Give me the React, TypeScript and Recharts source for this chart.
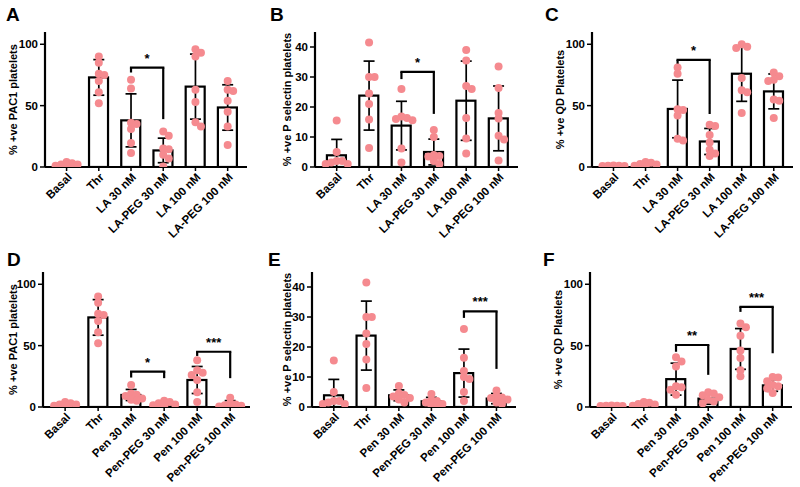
import {
  Bar,
  ComposedChart,
  ErrorBar,
  ReferenceLine,
  Scatter,
  XAxis,
  YAxis,
} from "recharts";

// categories
const CATS_LA = ["Basal", "Thr", "LA 30 nM", "LA-PEG 30 nM", "LA 100 nM", "LA-PEG 100 nM"];
const CATS_PEN = ["Basal", "Thr", "Pen 30 nM", "Pen-PEG 30 nM", "Pen 100 nM", "Pen-PEG 100 nM"];

// shared control groups
const PAC1_BASAL = [4, 3, 2, 2, 1, 1, 0.5];
const PAC1_THR = [90, 85, 76, 75, 70, 61, 52];
const PSEL_BASAL = [15.5, 5, 2, 2, 1.5, 1, 1];
const PSEL_THR = [41.5, 30, 30, 24.5, 21, 15.8, 6.3];
const QD_BASAL = [1.2, 1, 1, 0.9, 0.8, 0.8, 0.7];
const QD_THR = [4, 3.5, 2.5, 2, 1, 0.5, 0.3];

// A: PAC1, LA
const A_MEAN = [2, 73, 38, 13.5, 65.5, 48.5];
const A_SD = [1.2, 14.5, 21.6, 10, 26.5, 18.5];
const A_POINTS = [
  PAC1_BASAL,
  PAC1_THR,
  [71, 64, 36, 35, 31, 19.5, 11.5],
  [29, 25.5, 15, 14.5, 10, 7, 0.5],
  [96, 93, 90, 63, 53, 36.5, 33],
  [70, 63, 62, 54, 45, 33, 18],
];

// B: P selectin, LA
const B_MEAN = [3.9, 23.8, 13.8, 5, 22.1, 16.2];
const B_SD = [5.3, 11.5, 8.1, 4.3, 13.2, 10.8];
const B_POINTS = [
  PSEL_BASAL,
  PSEL_THR,
  [26, 16.8, 16.3, 16, 15.6, 6.2, 1.5],
  [12.3, 10, 4, 3.7, 3.5, 2, 1],
  [39, 35.5, 27, 26, 16.3, 9.5, 4.5],
  [33.5, 26.3, 18, 16.2, 10.4, 9.2, 2.2],
];

// C: QD, LA
const C_MEAN = [1, 2, 47.3, 20.8, 76, 61.6];
const C_SD = [0.3, 1.3, 23.5, 10.6, 22.5, 14.2];
const C_POINTS = [
  QD_BASAL,
  QD_THR,
  [81, 76, 47, 46.5, 42, 23, 21.5],
  [34.5, 33.5, 26, 20, 14, 11, 9],
  [100, 98, 97, 72.5, 62.6, 61, 44],
  [77, 74, 71, 70, 55, 54, 40],
];

// D: PAC1, Pen
const D_MEAN = [2, 73, 9.8, 2, 22, 2];
const D_SD = [1.2, 14.5, 4.5, 2.8, 11, 3.2];
const D_POINTS = [
  PAC1_BASAL,
  PAC1_THR,
  [18, 11, 10, 9, 7, 6, 5],
  [5, 4, 3, 2, 1.5, 1, 0.5],
  [38, 30, 28, 26, 22, 12, 4],
  [7.5, 3, 2, 1.5, 1, 0.5, 0],
];

// E: P selectin, Pen
const E_MEAN = [3.9, 23.8, 3.9, 1.9, 11.3, 2.8];
const E_SD = [5.3, 11.5, 1.8, 1.3, 8, 1.7];
const E_POINTS = [
  PSEL_BASAL,
  PSEL_THR,
  [7, 4.5, 4, 3.5, 3, 2.5, 1.5],
  [4.3, 2.3, 2, 1.5, 1, 0.5, 0.2],
  [26, 16.4, 12, 10, 9.3, 5, 2],
  [5.5, 3.7, 3.2, 3, 2.5, 1.5, 1],
];

// F: QD, Pen
const F_MEAN = [0.8, 2, 22.7, 6.8, 47.3, 17.6];
const F_SD = [0.3, 1.3, 13, 4.5, 16.6, 4.8];
const F_POINTS = [
  QD_BASAL,
  QD_THR,
  [40.5, 37, 33, 17, 16, 14, 10],
  [12, 11, 9.5, 8, 6, 4.5, 3],
  [68, 65, 58, 46, 40, 30, 25],
  [24.5, 24, 21, 18, 17, 15, 11.5],
];

// significance brackets: [from, to, top, left leg end, right leg end, label]
type Bracket = [number, number, number, number, number, string];
const A_BRACKETS: Bracket[] = [[2, 3, 81, 77, 39, "*"]];
const B_BRACKETS: Bracket[] = [[2, 3, 31.7, 29.3, 17.7, "*"]];
const C_BRACKETS: Bracket[] = [[2, 3, 87.3, 83.8, 43.2, "*"]];
const D_BRACKETS: Bracket[] = [
  [2, 3, 28.9, 24, 23.5, "*"],
  [4, 5, 45, 41.6, 23.5, "***"],
];
const E_BRACKETS: Bracket[] = [[4, 5, 31.9, 29.7, 12.7, "***"]];
const F_BRACKETS: Bracket[] = [
  [2, 3, 50.5, 45, 26.2, "**"],
  [4, 5, 81.6, 77.5, 43.8, "***"],
];

const PCT_TICKS = [0, 50, 100];
const PSEL_TICKS = [0, 10, 20, 30, 40];

const FONT = '"Liberation Sans", Arial, sans-serif';
const DOT = "#F58A8F";
const DOT_R = 4;
const BAR_W = 19;
const X_DOMAIN: [number, number] = [-0.67, 5.6];

type PanelCfg = {
  letter: string;
  letterX: number;
  left: number;
  y: number;
  width: number;
  height: number;
  top: number;
  yAxisW: number;
  right: number;
  xAxisH: number;
  labelX: number;
  yLabel: string;
  yMax: number;
  yTicks: number[];
  cats: string[];
  means: number[];
  sds: number[];
  points: number[][];
  brackets: Bracket[];
};

// small beeswarm so overlapping dots spread sideways
function swarm(values: number[], cat: number, pxPerY: number, pxPerX: number) {
  const placed: { px: number; py: number }[] = [];
  const step = 5.5;
  return values.map((v) => {
    const py = v * pxPerY;
    let dx = 0;
    for (let k = 0; k < 5; k++) {
      const cand = k === 0 ? 0 : (k % 2 ? 1 : -1) * Math.ceil(k / 2) * step;
      if (placed.every((p) => Math.hypot(p.px - cand, p.py - py) >= 5)) {
        dx = cand;
        break;
      }
    }
    placed.push({ px: dx, py });
    return { x: cat + dx / pxPerX, y: v };
  });
}

function XTick(props: any) {
  const { x, y, payload, labels } = props;
  const tx = x + 3;
  const ty = y + 2;
  return (
    <text
      x={tx}
      y={ty}
      dy="0.35em"
      transform={`rotate(-45 ${tx} ${ty})`}
      textAnchor="end"
      fontSize={11.5}
      fontWeight="bold"
      fontFamily={FONT}
      fill="#000"
    >
      {labels[payload.value]}
    </text>
  );
}

function OpenBar(p: any) {
  const cx = p.x + p.width / 2;
  return (
    <rect
      x={cx - BAR_W / 2}
      y={p.y}
      width={BAR_W}
      height={Math.max(p.height, 0)}
      fill="#fff"
      stroke="#000"
      strokeWidth={2.2}
    />
  );
}

const lineStyle = { stroke: "#000", strokeWidth: 2.2 };

function Panel({ cfg }: { cfg: PanelCfg }) {
  const plotW = cfg.width - cfg.yAxisW - cfg.right;
  const plotH = cfg.height - cfg.top - cfg.xAxisH;
  const bars = cfg.cats.map((_, i) => ({
    x: i,
    mean: cfg.means[i],
    err: [Math.min(cfg.sds[i], cfg.means[i]), cfg.sds[i]],
  }));
  const pts = cfg.points.flatMap((vals, i) =>
    swarm(vals, i, plotH / cfg.yMax, plotW / (X_DOMAIN[1] - X_DOMAIN[0]))
  );

  return (
    <div
      style={{
        position: "absolute",
        left: cfg.left,
        top: cfg.y,
        width: cfg.width,
        height: cfg.height,
      }}
    >
      <div
        style={{
          position: "absolute",
          left: cfg.letterX,
          top: 5,
          fontFamily: FONT,
          fontWeight: "bold",
          fontSize: 19,
          lineHeight: 1,
        }}
      >
        {cfg.letter}
      </div>
      <ComposedChart
        width={cfg.width}
        height={cfg.height}
        data={bars}
        margin={{ top: cfg.top, right: cfg.right, bottom: 0, left: 0 }}
      >
        <XAxis
          type="number"
          dataKey="x"
          domain={X_DOMAIN}
          ticks={[0, 1, 2, 3, 4, 5]}
          interval={0}
          allowDataOverflow
          height={cfg.xAxisH}
          tickSize={4}
          axisLine={lineStyle}
          tickLine={{ stroke: "#000", strokeWidth: 1.5 }}
          tick={(p: any) => <XTick {...p} labels={cfg.cats} />}
        />
        <YAxis
          type="number"
          domain={[0, cfg.yMax]}
          ticks={cfg.yTicks}
          allowDataOverflow
          width={cfg.yAxisW}
          tickSize={5}
          axisLine={lineStyle}
          tickLine={{ stroke: "#000", strokeWidth: 1.5 }}
          tick={{ fill: "#000", fontSize: 11.5, fontWeight: "bold", fontFamily: FONT }}
          label={{
            value: cfg.yLabel,
            angle: -90,
            position: "insideLeft",
            offset: cfg.labelX,
            style: {
              textAnchor: "middle",
              fontSize: 11,
              fontWeight: "bold",
              fill: "#000",
              fontFamily: FONT,
            },
          }}
        />
        <Bar dataKey="mean" barSize={BAR_W} shape={OpenBar} isAnimationActive={false} />
        <Scatter
          data={pts}
          dataKey="y"
          fill={DOT}
          isAnimationActive={false}
          shape={(p: any) => <circle cx={p.cx} cy={p.cy} r={DOT_R} fill={DOT} />}
        />
        <Scatter data={bars} dataKey="mean" isAnimationActive={false} shape={() => <g />}>
          <ErrorBar dataKey="err" direction="y" width={5.5} stroke="#000" strokeWidth={1.7} />
        </Scatter>
        {cfg.brackets.flatMap(([a, b, top, l, r, txt], k) => [
          <ReferenceLine
            key={`t${k}`}
            segment={[
              { x: a, y: top },
              { x: b, y: top },
            ]}
            {...lineStyle}
            strokeLinecap="square"
            label={{
              value: txt,
              position: "top",
              fill: "#000",
              fontSize: 13,
              fontWeight: "bold",
              fontFamily: FONT,
            }}
          />,
          <ReferenceLine
            key={`l${k}`}
            segment={[
              { x: a, y: top },
              { x: a, y: l },
            ]}
            {...lineStyle}
          />,
          <ReferenceLine
            key={`r${k}`}
            segment={[
              { x: b, y: top },
              { x: b, y: r },
            ]}
            {...lineStyle}
          />,
        ])}
      </ComposedChart>
    </div>
  );
}

const TOP_ROW = { y: 0, width: 270, height: 240, top: 32, xAxisH: 73 };
const BOTTOM_ROW = { y: 245, width: 270, height: 242, top: 27, xAxisH: 80 };

const PANELS: PanelCfg[] = [
  {
    ...TOP_ROW, letter: "A", letterX: 6, left: 0, yAxisW: 45, right: 23, labelX: 13,
    yLabel: "% +ve PAC1 platelets", yMax: 110, yTicks: PCT_TICKS, cats: CATS_LA,
    means: A_MEAN, sds: A_SD, points: A_POINTS, brackets: A_BRACKETS,
  },
  {
    ...TOP_ROW, letter: "B", letterX: 5, left: 265, yAxisW: 50, right: 17, labelX: 22,
    yLabel: "% +ve P selectin platelets", yMax: 45, yTicks: PSEL_TICKS, cats: CATS_LA,
    means: B_MEAN, sds: B_SD, points: B_POINTS, brackets: B_BRACKETS,
  },
  {
    ...TOP_ROW, letter: "C", letterX: 15, left: 530, yAxisW: 62, right: 7, labelX: 30,
    yLabel: "% +ve QD Platelets", yMax: 110, yTicks: PCT_TICKS, cats: CATS_LA,
    means: C_MEAN, sds: C_SD, points: C_POINTS, brackets: C_BRACKETS,
  },
  {
    ...BOTTOM_ROW, letter: "D", letterX: 7, left: 0, yAxisW: 43, right: 20, labelX: 13,
    yLabel: "% +ve PAC1 platelets", yMax: 110, yTicks: PCT_TICKS, cats: CATS_PEN,
    means: D_MEAN, sds: D_SD, points: D_POINTS, brackets: D_BRACKETS,
  },
  {
    ...BOTTOM_ROW, letter: "E", letterX: 3, left: 265, yAxisW: 47, right: 19, labelX: 22,
    yLabel: "% +ve P selectin platelets", yMax: 45, yTicks: PSEL_TICKS, cats: CATS_PEN,
    means: E_MEAN, sds: E_SD, points: E_POINTS, brackets: E_BRACKETS,
  },
  {
    ...BOTTOM_ROW, letter: "F", letterX: 13, left: 530, yAxisW: 60, right: 8, labelX: 28,
    yLabel: "% +ve QD Platelets", yMax: 110, yTicks: PCT_TICKS, cats: CATS_PEN,
    means: F_MEAN, sds: F_SD, points: F_POINTS, brackets: F_BRACKETS,
  },
];

export default function App() {
  return (
    <div
      style={{
        position: "absolute",
        left: 0,
        top: 0,
        width: 800,
        height: 487,
        background: "#fff",
        overflow: "hidden",
      }}
    >
      {PANELS.map((cfg) => (
        <Panel key={cfg.letter} cfg={cfg} />
      ))}
    </div>
  );
}
